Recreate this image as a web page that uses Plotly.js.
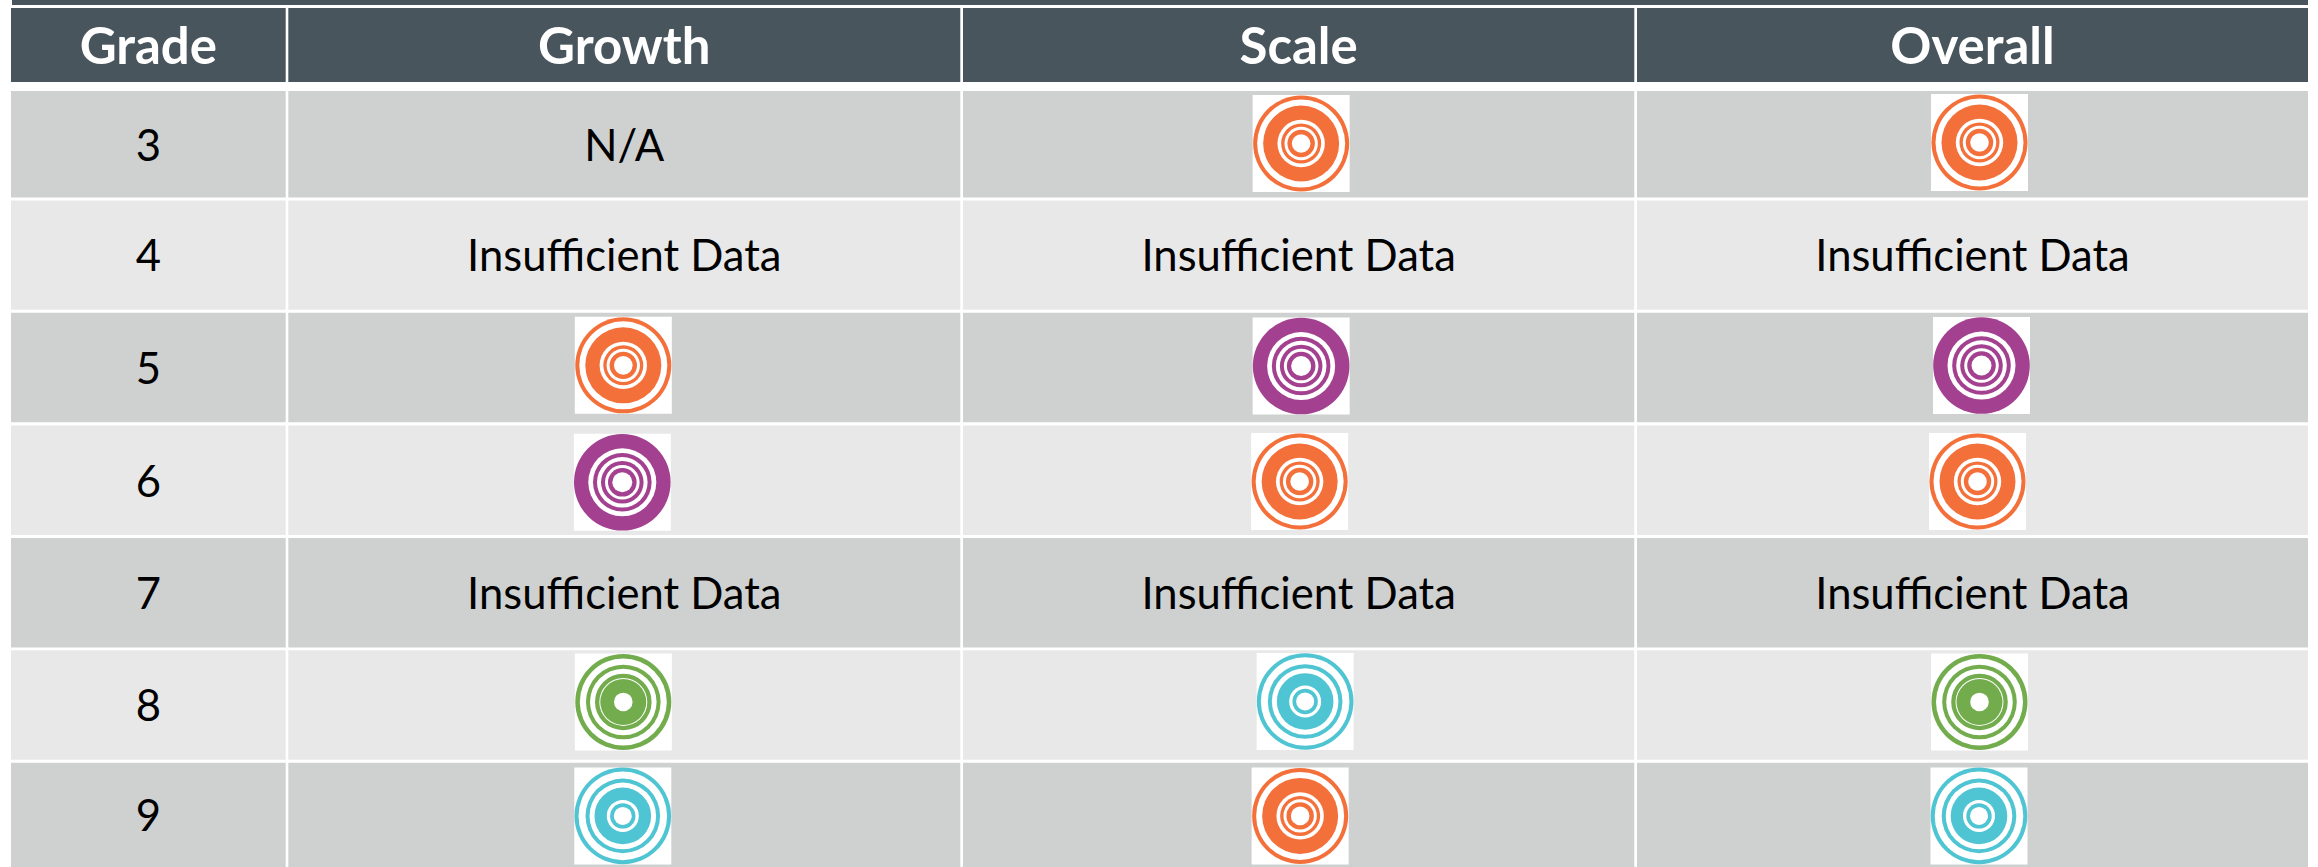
<!DOCTYPE html>
<html><head><meta charset="utf-8">
<script src="https://cdn.plot.ly/plotly-3.0.1.min.js"></script>
<style>html,body{margin:0;padding:0;background:#fff}#c{width:2318px;height:867px}</style>
</head><body><div id="c"></div>
<script>
// ---- data ----
const columns = ["Grade","Growth","Scale","Overall"];
const grades = ["3","4","5","6","7","8","9"];
const growth = ["N/A","Insufficient Data","orange","purple","Insufficient Data","green","teal"];
const scale = ["orange","Insufficient Data","purple","orange","Insufficient Data","teal","orange"];
const overall = ["orange","Insufficient Data","purple","orange","Insufficient Data","green","teal"];

// ---- layout constants (axis units = px) ----
const W=2318,H=867;
const colEdges=[[11,285.7],[288.3,960.3],[963,1634.3],[1637,2308]];
const rowEdges=[[91,197.5],[200.5,309.7],[312.8,422.3],[425.4,535],[538,647.6],[650.2,759.7],[762.8,867]];
const headerY=[8,82];
const colors={orange:"#F4703A",purple:"#A3408F",green:"#72AC4D",teal:"#4FC4D2"};
const radii={
 orange:[48,44,38,23.7,20,16.7,13.7,9.3],
 purple:[48.3,34,29.3,25.3,21.3,17.3,14.3,10],
 green:[48,43.5,37.3,33.3,28.3,24,23,9.3],
 teal:[48.3,44.3,37.3,33.3,28.3,16,12.7,9]
};
// icon centre offsets from cell centre, px [dx,dy]
const iconOffsets={
 Growth:[[0,0],[0,0],[-1,-2.2],[-2,2.1],[0,0],[-1,-3],[-1.5,1]],
 Scale:[[2.5,-0.75],[0,0],[2.5,-1.5],[1,1.3],[0,0],[6.5,-3.5],[1.5,1]],
 Overall:[[7,-1.75],[0,0],[9,-2],[5,1.3],[0,0],[7,-3],[6.5,1]]
};
const mid=e=>(e[0]+e[1])/2;
const xc=colEdges.map(mid), yc=rowEdges.map(mid);

// ---- cell backgrounds ----
const shapes=[{type:"rect",xref:"x",yref:"y",x0:12,x1:2308,y0:0,y1:5,fillcolor:"#48555C",line:{width:0},layer:"below"}];
colEdges.forEach(c=>{
 shapes.push({type:"rect",xref:"x",yref:"y",x0:c[0],x1:c[1],y0:headerY[0],y1:headerY[1],fillcolor:"#48555C",line:{width:0},layer:"below"});
 rowEdges.forEach((r,i)=>shapes.push({type:"rect",xref:"x",yref:"y",x0:c[0],x1:c[1],y0:r[0],y1:r[1],fillcolor:i%2?"#E8E8E8":"#CFD1D0",line:{width:0},layer:"below"}));
});

// ---- texts and icons ----
const FONT="Lato, 'Liberation Sans', sans-serif";
const traces=[];
traces.push({type:"scatter",mode:"text",x:xc,y:columns.map(()=>mid(headerY)+6),text:columns,
 textfont:{family:FONT,size:51,color:"#fff",weight:700},textposition:"middle center",hoverinfo:"skip",showlegend:false});
const tx=[],ty=[],tt=[];
grades.forEach((g,i)=>{tx.push(xc[0]);ty.push(yc[i]+5.5);tt.push(g);});
const body={Growth:growth,Scale:scale,Overall:overall};
const icons=[];
["Growth","Scale","Overall"].forEach((name,ci)=>{
 body[name].forEach((v,ri)=>{
  if(colors[v]){
   const o=iconOffsets[name][ri];
   icons.push({x:xc[ci+1]+o[0],y:yc[ri]+o[1],c:v});
  } else {tx.push(xc[ci+1]);ty.push(yc[ri]+5.5);tt.push(v);}
 });
});
traces.push({type:"scatter",mode:"text",x:tx,y:ty,text:tt,textfont:{family:FONT,size:43.6,color:"#000"},
 textposition:"middle center",hoverinfo:"skip",showlegend:false});
traces.push({type:"scatter",mode:"markers",x:icons.map(d=>d.x),y:icons.map(d=>d.y),
 marker:{symbol:"square",size:97,color:"#fff",opacity:1,line:{width:0}},hoverinfo:"skip",showlegend:false});
for(let k=0;k<8;k++){
 traces.push({type:"scatter",mode:"markers",x:icons.map(d=>d.x),y:icons.map(d=>d.y),
  marker:{symbol:"circle",size:icons.map(d=>radii[d.c][k]*2),sizemode:"diameter",opacity:1,
   color:icons.map(d=>k%2?"#fff":colors[d.c]),line:{width:0}},hoverinfo:"skip",showlegend:false});
}
Plotly.newPlot("c",traces,{
 width:W,height:H,margin:{l:0,r:0,t:0,b:0},paper_bgcolor:"#fff",plot_bgcolor:"#fff",
 xaxis:{range:[0,W],visible:false,fixedrange:true},
 yaxis:{range:[H,0],visible:false,fixedrange:true},
 shapes:shapes,showlegend:false
},{displayModeBar:false,staticPlot:true});
</script></body></html>
